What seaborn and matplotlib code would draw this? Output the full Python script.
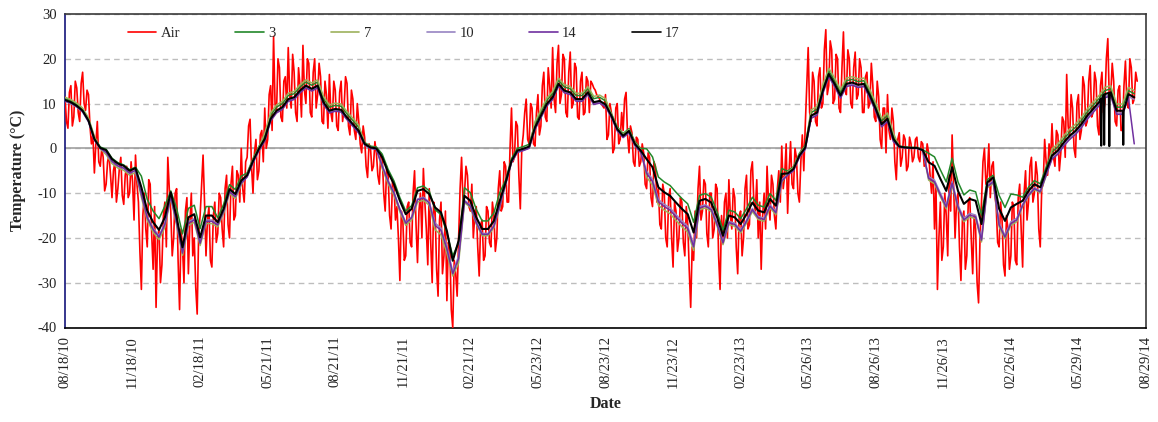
import numpy as np
import pandas as pd
import matplotlib
matplotlib.use("Agg")
import matplotlib.pyplot as plt
import matplotlib.dates as mdates
from matplotlib.lines import Line2D
import seaborn as sns

# ---- time base ----------------------------------------------------------
start = pd.Timestamp("2010-08-18")
end = pd.Timestamp("2014-08-29")
air_step_days = 2      # air temperature sampled every 2 days
soil_step_days = 8     # soil sensors sampled every 8 days

# ---- air temperature (deg C), one row per 40 days -----------------------
air = [
    11.5, 6.0, 4.5, 12.5, 14.0, 5.0, 7.0, 15.0, 13.5, 8.0, 6.0, 14.5, 17.0, 10.0, 8.5, 13.0, 12.0, 5.0, 1.0, 3.0,
    -5.5, 1.0, 6.0, -3.0, -4.0, 0.0, -2.0, -9.5, -8.0, -3.0, -1.5, -6.0, -11.0, -5.0, -3.0, -12.0, -9.0, -4.5, -2.0, -10.5,
    -12.5, -6.0, -4.0, -11.0, -10.0, -3.0, -7.5, -16.0, -1.5, -8.0, -12.0, -23.0, -31.5, -15.0, -10.0, -18.0, -22.0, -7.0, -8.0, -19.0,
    -27.0, -13.0, -35.5, -20.0, -18.0, -30.0, -26.0, -15.0, -12.0, -22.0, -2.0, -9.0, -14.0, -24.0, -20.0, -10.0, -9.0, -25.0, -36.0, -18.0,
    -22.0, -30.0, -14.0, -11.0, -28.0, -17.0, -10.0, -24.0, -20.0, -31.0, -37.0, -19.0, -15.0, -8.0, -1.5, -12.0, -24.0, -16.0, -13.0, -25.0,
    -26.5, -15.0, -12.0, -21.0, -19.0, -10.0, -11.0, -18.0, -22.0, -9.0, -6.0, -17.0, -20.0, -8.0, -4.0, -16.0, -15.0, -5.0, -6.0, -12.0,
    0.0, -9.0, -12.0, -3.0, -2.0, 5.0, 6.5, -4.0, -10.0, -1.0, 2.0, -7.0, -5.0, 3.0, 4.0, -3.0, 9.0, 0.0, 2.0, 12.0,
    14.0, 4.0, 25.0, 10.0, 8.0, 20.0, 18.0, 7.0, 6.0, 15.0, 16.0, 9.0, 22.5, 12.0, 9.0, 21.0, 17.0, 8.0, 6.0, 18.0,
    14.0, 7.0, 23.0, 13.0, 10.0, 20.0, 19.0, 8.0, 7.0, 17.0, 20.0, 9.0, 12.0, 19.0, 16.0, 6.0, 5.5, 15.0, 12.0, 4.5,
    16.5, 8.0, 6.0, 15.0, 13.0, 5.0, 4.0, 12.5, 15.0, 6.0, 9.0, 16.0, 14.5, 5.0, 3.0, 13.0, 11.0, 4.0, 2.0, 10.0,
    6.0, 1.0, -1.0, 5.0, 2.5, -4.0, -6.5, 1.0, 0.0, -5.0, -4.0, 1.5, -1.0, -6.0, -8.0, -1.0, -2.0, -10.0, -14.0, -4.0,
    -6.0, -15.0, -18.0, -7.0, -8.0, -16.0, -13.0, -20.0, -29.5, -14.0, -16.0, -25.0, -24.0, -13.0, -12.0, -21.0, -22.0, -10.0, -5.0, -17.0,
    -25.5, -14.0, -10.0, -20.0, -4.5, -12.0, -18.0, -26.0, -9.0, -21.0, -30.0, -12.0, -14.0, -27.0, -33.0, -16.0, -12.0, -28.0, -24.0, -14.0,
    -34.0, -21.0, -22.0, -36.0, -40.0, -25.0, -28.0, -33.0, -20.0, -9.0, -2.0, -12.0, -10.0, -4.0, -6.0, -13.0, -14.0, -8.0, -20.0, -15.0,
    -13.0, -22.0, -28.5, -17.0, -16.0, -25.0, -24.0, -13.0, -14.0, -21.0, -22.0, -12.0, -15.0, -23.0, -20.0, -9.0, -5.0, -14.0, -13.0, -3.0,
    -4.0, -12.0, -12.0, 0.0, 9.0, -3.0, -2.0, 6.0, 5.0, -6.0, -13.5, 0.0, 3.0, 8.0, 11.0, 2.0, 1.0, 10.0, 9.0, 1.0,
    0.5, 8.0, 12.0, 3.0, 5.0, 14.0, 17.0, 7.0, 6.0, 18.0, 14.0, 9.0, 22.5, 11.0, 8.0, 19.0, 23.0, 10.0, 12.0, 21.0,
    20.0, 8.0, 7.0, 17.0, 21.5, 9.0, 10.0, 19.0, 18.0, 7.0, 6.5, 15.0, 17.0, 7.5, 8.0, 16.0, 15.0, 8.0, 15.0, 14.4,
    13.5, 13.0, 12.0, 11.5, 11.0, 10.0, 9.5, 9.0, 12.0, 2.0, 3.0, 10.0, 8.0, -1.0, 0.0, 9.0, 10.0, 1.0, 2.0, 8.0,
    4.0, 11.0, 12.5, 3.0, -1.0, 5.0, 3.5, -3.0, -4.0, 2.5, 2.0, -4.0, -3.0, 1.0, -1.0, -8.0, -9.0, -1.0, -2.0, -11.0,
    -13.0, -3.0, -4.0, -12.0, -9.0, -17.0, -18.0, -8.0, -10.0, -20.0, -22.0, -11.0, -9.0, -20.0, -26.5, -12.0, -14.0, -23.0, -20.0, -11.0,
    -12.0, -21.0, -24.0, -13.0, -17.0, -27.0, -35.5, -22.0, -25.0, -14.0, -20.0, -9.0, -4.0, -16.0, -14.0, -7.0, -8.0, -19.0, -22.0, -10.0,
    -10.0, -20.0, -18.0, -8.0, -9.0, -24.0, -31.5, -15.0, -21.0, -12.0, -10.0, -20.0, -7.0, -15.0, -18.0, -9.0, -11.0, -22.0, -28.0, -15.0,
    -14.0, -24.0, -20.0, -9.0, -6.0, -18.0, -17.0, -5.0, -3.0, -12.0, -14.0, -7.0, -20.0, -12.0, -27.0, -15.0, -10.0, -18.0, -4.0, -12.0,
    -16.0, -6.0, -8.0, -15.0, -18.0, -9.0, -5.0, -12.0, 0.5, -9.0, -6.0, 1.0, -14.5, -5.0, 1.5, -8.0, -9.0, 0.0, -2.0, -10.0,
    -12.0, -3.0, 3.0, -5.0, 5.0, 14.0, 22.5, 8.0, 6.0, 17.0, 15.0, 6.0, 5.0, 16.0, 18.0, 9.0, 10.0, 22.0, 26.5, 12.0,
    14.0, 24.0, 22.0, 10.0, 11.0, 21.0, 20.0, 9.0, 8.0, 18.0, 26.0, 13.0, 12.0, 22.0, 20.0, 10.0, 9.0, 18.0, 21.5, 11.0,
    12.0, 20.0, 18.0, 8.0, 8.0, 16.0, 17.0, 9.0, 10.0, 19.0, 14.0, 7.0, 6.0, 15.0, 11.5, 2.0, 0.0, 9.0, 9.0, -1.0,
    12.0, 4.0, 2.0, 9.0, 6.0, -3.0, -7.0, 2.0, 3.5, -4.0, -2.0, 3.0, 2.0, -5.0, -4.0, 2.5, 1.0, -3.0, -2.0, 2.0,
    2.5, -2.0, -3.0, 1.5, 1.0, -4.0, -3.5, 1.0, -1.0, -6.0, -10.0, -3.0, -18.0, -8.0, -31.5, -20.0, -12.0, -25.0, -22.0, -10.0,
    -15.0, -24.0, -6.0, -14.0, 3.0, -8.0, -20.0, -12.0, -10.0, -22.0, -29.5, -16.0, -14.0, -27.0, -24.0, -12.0, -11.0, -20.0, -28.0, -15.0,
    -18.0, -30.0, -34.5, -20.0, -12.0, -3.0, 0.0, -8.0, -6.0, 1.0, -11.0, -4.0, -3.0, -10.0, -13.0, -21.0, -22.0, -12.0, -16.0, -26.0,
    -28.5, -15.0, -18.0, -27.0, -24.0, -12.0, -13.0, -25.0, -26.0, -11.0, -8.0, -18.0, -26.5, -10.0, -5.0, -16.0, -12.0, -4.0, -2.0, -12.0,
    -10.0, -3.0, -6.0, -18.0, -22.0, -9.0, -8.0, 2.0, -3.0, -6.0, 1.0, -3.0, 5.5, -2.0, -4.0, 4.0, 3.0, -5.0, -1.0, 7.0,
    6.0, -2.0, 16.5, 5.0, 2.0, 12.0, 9.0, 0.0, -2.0, 10.0, 12.0, 2.0, 4.0, 16.0, 14.0, 5.0, 6.0, 15.0, 18.5, 7.0,
    8.0, 17.0, 15.0, 5.0, 3.0, 14.0, 17.0, 8.0, 10.0, 20.0, 24.5, 11.0, 12.0, 19.0, 15.0, 6.0, 5.0, 13.0, 14.0, 4.0,
    4.0, 14.0, 19.5, 10.0, 9.0, 20.0, 18.0, 10.0, 11.0, 17.0, 15.0,
]

# ---- soil sensors (deg C), one row per 80 days --------------------------
s3 = [
    11.1, 10.6, 9.8, 8.7, 6.5, 2.4, 0.3, -0.2, -2.2, -3.2,
    -3.7, -4.8, -4.2, -6.2, -11.4, -14.0, -15.7, -12.9, -9.5, -13.4,
    -19.1, -13.4, -12.7, -17.9, -13.0, -13.0, -15.5, -12.5, -8.1, -9.2,
    -6.2, -5.5, -2.3, 0.4, 2.9, 7.4, 9.2, 10.0, 11.8, 12.2,
    13.7, 14.8, 14.1, 14.8, 11.1, 9.2, 9.6, 9.4, 7.7, 6.2,
    4.7, 1.3, 0.5, 0.3, -1.3, -4.7, -7.3, -11.0, -14.0, -12.8,
    -8.8, -8.4, -9.5, -13.7, -14.8, -18.9, -24.0, -21.1, -8.8, -9.9,
    -13.6, -16.2, -16.2, -14.4, -9.9, -7.1, -2.3, 0.0, 0.4, 0.9,
    5.5, 8.1, 10.7, 12.2, 15.2, 13.7, 13.3, 11.8, 11.8, 13.3,
    11.1, 11.4, 10.6, 7.8, 4.8, 3.3, 4.4, 1.5, 0.0, -0.1,
    -1.9, -6.4, -7.5, -8.3, -9.8, -11.2, -12.4, -16.5, -10.5, -10.1,
    -10.9, -14.2, -18.3, -13.8, -14.2, -15.7, -13.5, -10.9, -12.7, -13.1,
    -10.1, -11.6, -4.5, -5.1, -4.1, -1.1, 0.7, 8.0, 8.7, 13.6,
    17.3, 15.1, 12.5, 15.1, 15.4, 14.9, 15.1, 12.5, 9.5, 6.1,
    7.3, 2.8, 0.5, 0.3, 0.2, 0.2, -0.3, -1.1, -1.9, -4.8,
    -7.5, -2.2, -7.5, -10.4, -9.3, -9.7, -14.9, -7.0, -6.0, -10.5,
    -13.2, -10.2, -10.4, -10.9, -8.7, -7.2, -7.9, -4.2, -0.8, 0.3,
    2.1, 3.6, 4.7, 6.2, 8.1, 9.6, 11.1, 12.9, 13.3, 9.2,
    9.2, 12.9, 12.2,
]
s7 = [
    11.4, 10.9, 10.1, 9.0, 6.8, 2.7, -0.1, -1.4, -3.4, -4.4,
    -4.9, -6.0, -5.4, -10.9, -16.1, -18.7, -20.4, -17.6, -11.0, -17.2,
    -23.9, -17.2, -16.5, -21.7, -16.8, -16.8, -17.5, -14.5, -10.1, -11.2,
    -8.2, -5.7, -2.5, 0.2, 3.4, 7.9, 9.7, 10.5, 12.3, 12.7,
    14.2, 15.3, 14.6, 15.3, 11.6, 9.7, 10.1, 9.9, 8.2, 6.7,
    5.2, 1.1, 0.3, 0.1, -4.5, -7.9, -10.5, -14.2, -17.2, -16.0,
    -12.0, -11.6, -12.7, -18.2, -19.3, -23.4, -28.5, -25.6, -12.1, -13.2,
    -16.9, -19.5, -19.5, -17.7, -13.2, -7.9, -3.1, -0.8, -0.4, 0.1,
    6.0, 8.6, 11.2, 12.7, 15.7, 14.2, 13.8, 12.3, 12.3, 13.8,
    11.6, 11.9, 11.1, 7.6, 4.6, 3.1, 4.2, 1.3, -0.2, -6.4,
    -8.2, -12.7, -13.8, -14.6, -16.1, -17.5, -18.7, -22.8, -13.7, -13.3,
    -14.1, -17.4, -21.5, -17.0, -17.4, -18.9, -16.7, -14.1, -15.9, -16.3,
    -13.3, -14.8, -7.7, -5.3, -4.3, -1.3, 0.5, 8.6, 9.3, 14.2,
    17.9, 15.7, 13.1, 15.7, 16.0, 15.5, 15.7, 13.1, 10.1, 6.7,
    7.9, 3.4, 0.4, 0.2, 0.1, 0.1, -0.4, -7.1, -7.9, -10.8,
    -13.5, -8.2, -13.5, -16.4, -15.3, -15.7, -20.9, -8.8, -7.8, -17.5,
    -20.2, -17.2, -16.4, -12.9, -10.7, -9.2, -9.9, -6.2, -0.1, 1.0,
    2.8, 4.3, 5.4, 6.9, 8.8, 10.3, 11.8, 13.6, 14.0, 9.9,
    9.9, 13.6, 12.9,
]
s10 = [
    10.5, 10.0, 9.2, 8.1, 5.9, 1.8, 0.0, -1.0, -3.0, -4.0,
    -4.5, -5.6, -5.0, -10.0, -15.2, -17.8, -19.5, -16.7, -10.5, -16.4,
    -23.1, -16.4, -15.7, -20.9, -16.0, -16.0, -17.0, -14.0, -9.6, -10.7,
    -7.7, -6.3, -3.1, -0.4, 1.8, 6.3, 8.1, 8.9, 10.7, 11.1,
    12.6, 13.7, 13.0, 13.7, 10.0, 8.1, 8.5, 8.3, 6.6, 5.1,
    3.6, 0.8, 0.0, -0.2, -3.8, -7.2, -9.8, -13.5, -16.5, -15.3,
    -11.3, -10.9, -12.0, -16.7, -17.8, -21.9, -27.5, -24.1, -11.6, -12.7,
    -16.4, -19.0, -19.0, -17.2, -12.7, -7.9, -3.1, -0.8, -0.4, 0.1,
    4.4, 7.0, 9.6, 11.1, 14.1, 12.6, 12.2, 10.7, 10.7, 12.2,
    10.0, 10.3, 9.5, 7.0, 4.0, 2.5, 3.6, 0.7, -0.8, -5.1,
    -6.9, -11.4, -12.5, -13.3, -14.8, -16.2, -17.4, -21.5, -13.0, -12.6,
    -13.4, -16.7, -20.8, -16.3, -16.7, -18.2, -16.0, -13.4, -15.2, -15.6,
    -12.6, -14.1, -7.0, -5.9, -4.9, -1.9, -0.1, 6.9, 7.6, 12.5,
    16.2, 14.0, 11.4, 14.0, 14.3, 13.8, 14.0, 11.4, 8.4, 5.0,
    6.2, 1.7, 0.3, 0.1, 0.0, 0.0, -0.5, -6.3, -7.1, -10.0,
    -12.7, -7.4, -12.7, -15.6, -14.5, -14.9, -20.1, -8.2, -7.2, -16.7,
    -19.4, -16.4, -15.6, -12.5, -10.3, -8.8, -9.5, -5.8, -2.1, -1.0,
    0.8, 2.3, 3.4, 4.9, 6.8, 8.3, 9.8, 11.6, 12.0, 7.9,
    7.9, 11.6, 10.9,
]
s14 = [
    10.6, 10.1, 9.3, 8.2, 6.0, 1.9, 0.0, -0.9, -2.9, -3.9,
    -4.4, -5.5, -4.9, -10.3, -15.5, -18.1, -19.8, -17.0, -10.8, -16.7,
    -23.4, -16.7, -16.0, -21.2, -16.3, -16.3, -17.1, -14.1, -9.7, -10.8,
    -7.8, -6.4, -3.2, -0.5, 1.6, 6.1, 7.9, 8.7, 10.5, 10.9,
    12.4, 13.5, 12.8, 13.5, 9.8, 7.9, 8.3, 8.1, 6.4, 4.9,
    3.4, 0.8, 0.0, -0.2, -4.0, -7.4, -10.0, -13.7, -16.7, -15.5,
    -11.5, -11.1, -12.2, -17.2, -18.3, -22.4, -28.0, -24.6, -11.8, -12.9,
    -16.6, -19.2, -19.2, -17.4, -12.9, -8.0, -3.2, -0.9, -0.5, 0.0,
    4.2, 6.8, 9.4, 10.9, 13.9, 12.4, 12.0, 10.5, 10.5, 12.0,
    9.8, 10.1, 9.3, 6.9, 3.9, 2.4, 3.5, 0.6, -0.9, -5.6,
    -7.4, -11.9, -13.0, -13.8, -15.3, -16.7, -17.9, -22.0, -13.3, -12.9,
    -13.7, -17.0, -21.1, -16.6, -17.0, -18.5, -16.3, -13.7, -15.5, -15.9,
    -12.9, -14.4, -7.3, -6.0, -5.0, -2.0, -0.2, 6.7, 7.4, 12.3,
    16.0, 13.8, 11.2, 13.8, 14.1, 13.6, 13.8, 11.2, 8.2, 4.8,
    6.0, 1.5, 0.3, 0.1, 0.0, 0.0, -0.5, -6.7, -7.5, -10.4,
    -13.1, -7.8, -13.1, -16.0, -14.9, -15.3, -20.5, -8.5, -7.5, -17.1,
    -19.8, -16.8, -16.0, -12.7, -10.5, -9.0, -9.7, -6.0, -2.4, -1.3,
    0.5, 2.0, 3.1, 4.6, 6.5, 8.0, 9.5, 11.3, 11.7, 7.6,
    7.6, 11.3, 1.0,
]
s17 = [
    10.8, 10.3, 9.5, 8.4, 6.2, 2.1, 0.1, -0.4, -2.4, -3.4,
    -3.9, -5.0, -4.4, -8.7, -13.9, -16.5, -18.2, -15.4, -9.8, -15.4,
    -22.1, -15.4, -14.7, -19.9, -15.0, -15.0, -16.5, -13.5, -9.1, -10.2,
    -7.2, -6.0, -2.8, -0.1, 2.1, 6.6, 8.4, 9.2, 11.0, 11.4,
    12.9, 14.0, 13.3, 14.0, 10.3, 8.4, 8.8, 8.6, 6.9, 5.4,
    3.9, 1.0, 0.2, 0.0, -2.0, -5.4, -8.0, -11.7, -14.7, -13.5,
    -9.5, -9.1, -10.2, -13.2, -14.3, -18.4, -25.1, -20.6, -10.6, -11.7,
    -15.4, -18.0, -18.0, -16.2, -11.7, -7.6, -2.8, -0.5, -0.1, 0.4,
    4.7, 7.3, 9.9, 11.4, 14.4, 12.9, 12.5, 11.0, 11.0, 12.5,
    10.3, 10.6, 9.8, 7.3, 4.3, 2.8, 3.9, 1.0, -0.5, -2.4,
    -4.2, -8.7, -9.8, -10.6, -12.1, -13.5, -14.7, -18.8, -11.7, -11.3,
    -12.1, -15.4, -19.5, -15.0, -15.4, -16.9, -14.7, -12.1, -13.9, -14.3,
    -11.3, -12.8, -5.7, -5.6, -4.6, -1.6, 0.2, 7.3, 8.0, 12.9,
    16.6, 14.4, 11.8, 14.4, 14.7, 14.2, 14.4, 11.8, 8.8, 5.4,
    6.6, 2.1, 0.4, 0.2, 0.1, 0.1, -0.4, -3.1, -3.9, -6.8,
    -9.5, -4.2, -9.5, -12.4, -11.3, -11.7, -16.9, -7.6, -6.5, -13.5,
    -16.2, -13.2, -12.4, -11.7, -9.5, -8.0, -8.7, -5.0, -1.6, -0.5,
    1.3, 2.8, 3.9, 5.4, 7.3, 8.8, 10.3, 12.1, 12.5, 8.4,
    8.4, 12.1, 11.4,
]
# brief dropouts of the 17 probe in summer 2014 (day offset, reading, level around it)
s17_dropout_day = [1411, 1415, 1422, 1441]
s17_dropout_low = [0.6, 0.8, 0.5, 0.8]
s17_dropout_level = [11.0, 12.0, 12.4, 8.4]

series_order = ["Air", "3", "7", "10", "14", "17"]
palette = {"Air": "#FF0000", "3": "#23882A", "7": "#9DB25C",
           "10": "#9784C2", "14": "#7030A0", "17": "#000000"}
line_widths = {"Air": 1.2, "3": 1.1, "7": 1.1, "10": 1.1, "14": 1.1, "17": 1.5}


def frame(name, days, values):
    days = np.asarray(days, dtype=float)
    return pd.DataFrame({
        "date": start + pd.to_timedelta(days, unit="D"),
        "temp": np.asarray(values, dtype=float),
        "series": name,
    })


air_days = np.arange(len(air)) * air_step_days
soil_days = np.arange(len(s17)) * soil_step_days
assert len(air) == 731, len(air)
for arr in (s3, s7, s10, s14, s17):
    assert len(arr) == 183, len(arr)

drop_days, drop_vals = [], []
for d, low, lev in zip(s17_dropout_day, s17_dropout_low, s17_dropout_level):
    drop_days += [d - 0.6, d, d + 0.6]
    drop_vals += [lev, low, lev]

df = pd.concat([
    frame("Air", air_days, air),
    frame("3", soil_days, s3),
    frame("7", soil_days, s7),
    frame("10", soil_days, s10),
    frame("14", soil_days, s14),
    frame("17", np.concatenate([soil_days, drop_days]),
          np.concatenate([s17, drop_vals])),
], ignore_index=True)

# ---- figure -------------------------------------------------------------
sns.set_theme(style="white")
plt.rcParams["font.family"] = ["Liberation Serif", "DejaVu Serif"]
plt.rcParams["axes.unicode_minus"] = False

W, H = 1158, 422
fig = plt.figure(figsize=(W / 100, H / 100), dpi=100)
ax = fig.add_axes([65 / W, 1 - 327.5 / H, 1081 / W, 313.5 / H])

sns.lineplot(data=df, x="date", y="temp", hue="series", hue_order=series_order,
             palette=palette, estimator=None, sort=True, legend=False, ax=ax)
for line, name in zip(ax.lines, series_order):
    line.set_linewidth(line_widths[name])
    line.set_zorder(3)

ax.set_ylim(-40, 30)
ax.set_xlim(start, end)
ax.set_yticks(np.arange(-40, 31, 10))
ax.set_xticks(pd.date_range(start, periods=17, freq="92D"))
ax.xaxis.set_major_formatter(mdates.DateFormatter("%m/%d/%y"))
for lab in ax.get_xticklabels():
    lab.set_rotation(90)

ax.set_axisbelow(True)
ax.yaxis.grid(True, color="#BDBDBD", linestyle=(0, (4, 3)), linewidth=1.0)
ax.xaxis.grid(False)
ax.axhline(0, color="#A0A0A0", linewidth=1.2, zorder=2)

ax.tick_params(axis="both", length=0, labelsize=10.5, colors="#222222")
ax.tick_params(axis="y", pad=6)
ax.tick_params(axis="x", pad=6)

for side in ("top", "right"):
    ax.spines[side].set_color("#3A3A3A")
    ax.spines[side].set_linewidth(1.2)
ax.spines["left"].set_color("#14147A")
ax.spines["left"].set_linewidth(1.2)
ax.spines["bottom"].set_color("#000000")
ax.spines["bottom"].set_linewidth(1.2)

ax.set_xlabel("Date", fontsize=11.5, fontweight="bold", labelpad=6)
ax.set_ylabel("Temperature (°C)", fontsize=11.5, fontweight="bold", labelpad=8)

handles = [Line2D([], [], color=palette[n], linewidth=1.2) for n in series_order]
ax.legend(handles, series_order, loc="center left",
          bbox_to_anchor=(0.058, 0.939), ncol=6, frameon=False,
          fontsize=10.5, handlelength=1.95, handletextpad=0.3,
          columnspacing=3.8, borderpad=0, borderaxespad=0)

fig.savefig("out.png", dpi=100)
